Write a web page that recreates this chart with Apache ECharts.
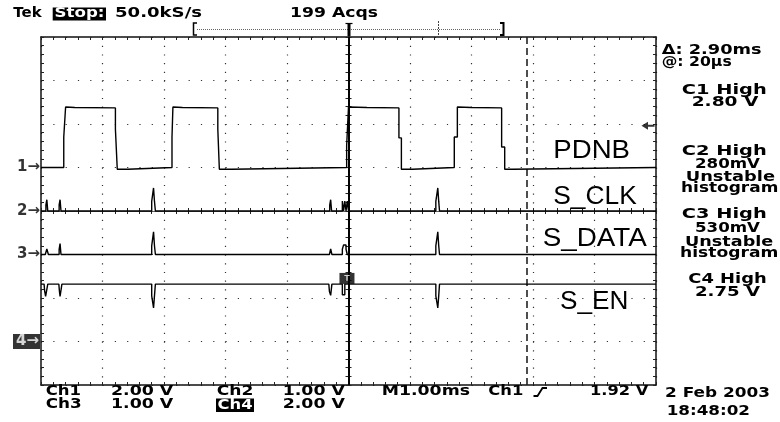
<!DOCTYPE html>
<html>
<head>
<meta charset="utf-8">
<script src="https://cdn.jsdelivr.net/npm/echarts@6/dist/echarts.min.js"></script>
<style>
html, body { margin: 0; padding: 0; background: #fff; }
#chart { width: 780px; height: 422px; }
</style>
</head>
<body>
<div id="chart"></div>
<script>
// time in ms (trigger at 0, 1 ms/div), value in volts
const ch1Points = [
  [-5, 0], [-4.63, 0], [-4.63, 1.4], [-4.6, 1.4], [-4.6, 2.78], [-4.45, 2.76], [-3.79, 2.74],
  [-3.79, 1.76], [-3.76, 1.76], [-3.76, -0.08], [-3.59, -0.08], [-3.59, 0],
  [-2.87, 0], [-2.87, 1.4], [-2.855, 1.4], [-2.855, 2.78], [-2.7, 2.76], [-2.125, 2.74],
  [-2.125, 1.76], [-2.1, 1.76], [-2.1, -0.08], [-1.9, -0.08], [-1.9, 0],
  [-0.03, 0], [-0.03, 1.0], [0, 1.0], [0, 2.78], [0.3, 2.76], [0.82, 2.74],
  [0.82, 1.36], [0.86, 1.36], [0.86, -0.08], [1.04, -0.08], [1.04, 0],
  [1.72, 0], [1.72, 1.4], [1.77, 1.4], [1.77, 2.78], [2.0, 2.76], [2.49, 2.74],
  [2.49, 0.94], [2.54, 0.94], [2.54, -0.08], [2.67, -0.08], [2.67, 0], [5, 0]
];
const ch2Points = [
  [-5, 0],
  [-4.92, 0], [-4.92, 0.14], [-4.905, 0.14], [-4.905, 0.26], [-4.89, 0.26], [-4.89, 0],
  [-4.705, 0], [-4.705, 0.14], [-4.69, 0.14], [-4.69, 0.26], [-4.675, 0.26], [-4.675, 0],
  [-3.2, 0], [-3.2, 0.22], [-3.17, 0.22], [-3.17, 0.53], [-3.155, 0.53], [-3.155, 0.22], [-3.14, 0.22], [-3.14, 0],
  [-0.305, 0], [-0.305, 0.14], [-0.29, 0.14], [-0.29, 0.26], [-0.275, 0.26], [-0.275, 0],
  [-0.1, 0], [-0.1, 0.23], [-0.08, 0.23], [-0.08, 0], [-0.06, 0], [-0.06, 0.23],
  [-0.04, 0.23], [-0.04, 0], [-0.02, 0], [-0.02, 0.23], [0, 0.23], [0, 0],
  [1.42, 0], [1.42, 0.22], [1.452, 0.22], [1.452, 0.53], [1.467, 0.53], [1.467, 0.22], [1.48, 0.22], [1.48, 0],
  [5, 0]
];
const ch3Points = [
  [-5, 0], [-4.93, 0], [-4.905, 0.13], [-4.88, 0],
  [-4.705, 0], [-4.705, 0.12], [-4.69, 0.12], [-4.69, 0.25], [-4.675, 0.25], [-4.675, 0],
  [-3.2, 0], [-3.2, 0.2], [-3.17, 0.2], [-3.17, 0.52], [-3.155, 0.52], [-3.155, 0.2], [-3.14, 0.2], [-3.14, 0],
  [-2.66, 0], [-2.64, 0.04], [-2.62, 0],
  [-0.31, 0], [-0.29, 0.13], [-0.27, 0],
  [-0.1, 0], [-0.1, 0.12], [-0.08, 0.22], [-0.04, 0.22], [-0.04, 0.12], [-0.02, 0.12], [-0.02, 0],
  [1.42, 0], [1.42, 0.2], [1.452, 0.2], [1.452, 0.52], [1.467, 0.52], [1.467, 0.2], [1.48, 0.2], [1.48, 0],
  [5, 0]
];
const ch4Points = [
  [-5, 2.64], [-4.95, 2.64], [-4.94, 2.3], [-4.925, 2.07], [-4.9, 2.07], [-4.89, 2.64],
  [-4.71, 2.64], [-4.7, 2.3], [-4.69, 2.07], [-4.67, 2.07], [-4.66, 2.64],
  [-3.2, 2.64], [-3.2, 2.1], [-3.17, 2.1], [-3.17, 1.54], [-3.155, 1.54], [-3.155, 2.1], [-3.14, 2.1], [-3.14, 2.64],
  [-0.32, 2.64], [-0.31, 2.3], [-0.29, 2.12], [-0.27, 2.64],
  [-0.1, 2.64], [-0.1, 2.15], [-0.06, 2.15], [-0.06, 2.64],
  [1.42, 2.64], [1.42, 2.1], [1.452, 2.1], [1.452, 1.54], [1.467, 1.54], [1.467, 2.1], [1.48, 2.1], [1.48, 2.64],
  [5, 2.64]
];
const chScale = [2, 1, 1, 2];        // V/div
const chGround = [1, 0, -1, -3];     // ground marker, div from screen centre
const cursors = [0, 2.9];            // ms
const trigLevel = 1.92;              // V on Ch1
const trigMark = [-0.025, -1.55];    // small T box near trigger

const chart = echarts.init(document.getElementById('chart'));

function toDiv(points, i) {
  return points.map(p => [p[0], chGround[i] + p[1] / chScale[i]]);
}

// text sized to the width it has in the picture
const measure = document.createElement('canvas').getContext('2d');
const SCOPE_FONT = 'bold 14px "DejaVu Sans"';
const LABEL_FONT = '26px "Liberation Sans"';
function fitText(s, x0, x1, cy, font, fill) {
  measure.font = font;
  const w = measure.measureText(s).width;
  return {
    type: 'text', x: x0, y: cy, scaleX: (x1 - x0) / w, z: 100,
    style: { text: s, font: font, fill: fill || '#000',
      textAlign: 'left', textVerticalAlign: 'middle', align: 'left', verticalAlign: 'middle' }
  };
}

const texts = [
  ['Tek', 13.3, 41.7, 13.3],
  ['50.0kS/s', 115, 202, 13.3],
  ['199 Acqs', 290, 378, 13.3],
  ['\u0394: ' + (cursors[1] - cursors[0]).toFixed(2) + 'ms', 661.7, 761.7, 50],
  ['@: 20\u00b5s', 661.7, 731.7, 62],
  ['C1 High', 681.7, 766.7, 90.3],
  ['2.80 V', 691.7, 758.3, 102.8],
  ['C2 High', 681.7, 766.7, 151.7],
  ['280mV', 695, 760, 164.7],
  ['Unstable', 685.7, 775, 177.7],
  ['histogram', 681, 778.3, 188.7],
  ['C3 High', 681.7, 766.7, 214.7],
  ['530mV', 695, 760, 228.3],
  ['Unstable', 685, 773.3, 242],
  ['histogram', 680, 778.3, 253.7],
  ['C4 High', 688.3, 766.7, 279.5],
  ['2.75 V', 695, 760, 292],
  ['Ch1', 45.7, 81, 391.7],
  ['2.00 V', 111, 173.3, 391.7],
  ['Ch2', 216.7, 253.3, 391.7],
  ['1.00 V', 282.7, 345, 391.7],
  ['Ch3', 45.7, 81.7, 404.7],
  ['1.00 V', 111, 173.3, 404.7],
  ['2.00 V', 282.7, 345, 404.7],
  ['M1.00ms', 381.7, 470, 391.7],
  ['Ch1', 488.3, 523.3, 391.7],
  [trigLevel.toFixed(2) + ' V', 590, 648.3, 391.7],
  ['2 Feb 2003', 665, 770, 393.7],
  ['18:48:02', 666.7, 750, 411.7]
];
const signalLabels = [
  ['PDNB', 553.3, 630, 150.7],
  ['S_CLK', 553.3, 636.7, 196.7],
  ['S_DATA', 542.7, 646.7, 239],
  ['S_EN', 560, 628.3, 301.7]
];

const graphics = [
  { type: 'rect', z: 99, shape: { x: 52.7, y: 7.5, width: 53.3, height: 13 }, style: { fill: '#000' } },
  fitText('Stop:', 54.5, 104.5, 13.8, SCOPE_FONT, '#fff'),
  { type: 'rect', z: 99, shape: { x: 216, y: 398.5, width: 38, height: 13.5 }, style: { fill: '#000' } },
  fitText('Ch4', 217.5, 252.5, 404.9, SCOPE_FONT, '#fff'),
  // record view bracket
  { type: 'polyline', z: 100, shape: { points: [[197, 23], [193.5, 23], [193.5, 35], [197, 35]] }, style: { stroke: '#000', lineWidth: 1.5, fill: null } },
  { type: 'line', z: 100, shape: { x1: 197, y1: 29.5, x2: 500, y2: 29.5 }, style: { stroke: '#666', lineWidth: 1, lineDash: [1, 1] } },
  { type: 'polyline', z: 100, shape: { points: [[500, 23], [503.5, 23], [503.5, 35], [500, 35]] }, style: { stroke: '#000', lineWidth: 2, fill: null } },
  { type: 'line', z: 100, shape: { x1: 349, y1: 24, x2: 349, y2: 36 }, style: { stroke: '#000', lineWidth: 3 } },
  { type: 'line', z: 100, shape: { x1: 345.5, y1: 23.5, x2: 352.5, y2: 23.5 }, style: { stroke: '#000', lineWidth: 1.2 } },
  { type: 'line', z: 100, shape: { x1: 438.5, y1: 21, x2: 438.5, y2: 35 }, style: { stroke: '#444', lineWidth: 1, lineDash: [2, 1] } },
  // trigger slope symbol
  { type: 'polyline', z: 100, shape: { points: [[533.5, 396], [537.5, 396], [542.5, 388], [547, 388]] }, style: { stroke: '#000', lineWidth: 1.8, fill: null } }
];
texts.forEach(t => graphics.push(fitText(t[0], t[1], t[2], t[3], SCOPE_FONT)));
signalLabels.forEach(t => graphics.push(fitText(t[0], t[1], t[2], t[3], LABEL_FONT)));

const gridColor = '#333';
function borderX(pos) {
  return {
    type: 'value', min: -5, max: 5, interval: 1, position: pos,
    axisLine: { onZero: false, lineStyle: { color: '#111', width: 1.5 } },
    axisTick: { show: true, inside: true, length: 3, lineStyle: { color: '#222' } },
    minorTick: { show: true, splitNumber: 5, length: 3, lineStyle: { color: '#222' } },
    axisLabel: { show: false },
    splitLine: { show: pos === 'bottom', lineStyle: { color: gridColor, width: 1.2, type: [1.2, 7.5] } }
  };
}
function borderY(pos) {
  return {
    type: 'value', min: -4, max: 4, interval: 1, position: pos,
    axisLine: { onZero: false, lineStyle: { color: '#111', width: 1.5 } },
    axisTick: { show: true, inside: true, length: 3, lineStyle: { color: '#222' } },
    minorTick: { show: true, splitNumber: 5, length: 3, lineStyle: { color: '#222' } },
    axisLabel: { show: false },
    splitLine: { show: pos === 'left', lineStyle: { color: gridColor, width: 1.2, type: [1.2, 11.1] } }
  };
}
function centreX(inside) {
  return {
    type: 'value', min: -5, max: 5, interval: 1, position: 'bottom',
    axisLine: { onZero: true, lineStyle: { color: '#555', width: 0.8 } },
    axisTick: { show: true, inside: inside, length: 3, lineStyle: { color: '#222' } },
    minorTick: { show: true, splitNumber: 5, length: 3, lineStyle: { color: '#222' } },
    axisLabel: { show: false }, splitLine: { show: false }
  };
}
function centreY(inside) {
  return {
    type: 'value', min: -4, max: 4, interval: 1, position: 'left',
    axisLine: { onZero: true, lineStyle: { color: '#000', width: 1.6 } },
    axisTick: { show: true, inside: inside, length: 3, lineStyle: { color: '#222' } },
    minorTick: { show: true, splitNumber: 5, length: 3, lineStyle: { color: '#222' } },
    axisLabel: { show: false }, splitLine: { show: false }
  };
}

const traces = [ch1Points, ch2Points, ch3Points, ch4Points].map((pts, i) => ({
  name: 'Ch' + (i + 1),
  type: 'line',
  data: toDiv(pts, i),
  symbol: 'none',
  lineStyle: { color: '#000', width: 1.4 },
  z: 5,
  markLine: i === 0 ? {
    silent: true, symbol: 'none', label: { show: false },
    data: [
      { xAxis: cursors[0], lineStyle: { color: '#000', width: 1.6, type: 'solid' } },
      { xAxis: cursors[1], lineStyle: { color: '#222', width: 1.6, type: [7, 4] } }
    ]
  } : undefined
}));

const markers = {
  type: 'scatter',
  clip: false,
  silent: true,
  symbolSize: 0,
  z: 10,
  label: {
    show: true, position: 'left', distance: 1,
    fontFamily: 'DejaVu Sans', fontWeight: 'bold', fontSize: 15, color: '#000',
    formatter: p => (p.dataIndex + 1) + '\u2192'
  },
  data: chGround.map((g, i) => i === 3
    ? { value: [-5, g], label: { color: '#fff', backgroundColor: '#000', padding: [0, 1, 0, 3] } }
    : { value: [-5, g] })
};

const trigArrow = {
  type: 'scatter',
  clip: false,
  silent: true,
  z: 10,
  symbol: 'path://M0,4 L6,0 L6,3 L12,3 L12,5 L6,5 L6,8 Z',
  symbolSize: [13, 8],
  symbolOffset: [-8, 0],
  itemStyle: { color: '#000' },
  data: [[5, chGround[0] + trigLevel / chScale[0]]]
};

const trigBox = {
  type: 'scatter',
  silent: true,
  z: 10,
  symbol: 'rect',
  symbolSize: [15, 11],
  itemStyle: { color: '#000' },
  label: { show: true, position: 'inside', formatter: 'T', color: '#fff', fontSize: 9, fontWeight: 'bold' },
  data: [trigMark]
};

const option = {
  backgroundColor: '#fff',
  animation: false,
  grid: { left: 41, top: 37, width: 615, height: 348, show: false },
  xAxis: [borderX('bottom'), borderX('top'), centreX(true), centreX(false)],
  yAxis: [borderY('left'), borderY('right'), centreY(true), centreY(false)],
  series: traces.concat([markers, trigArrow, trigBox]),
  graphic: graphics
};

chart.setOption(option);
</script>
</body>
</html>
